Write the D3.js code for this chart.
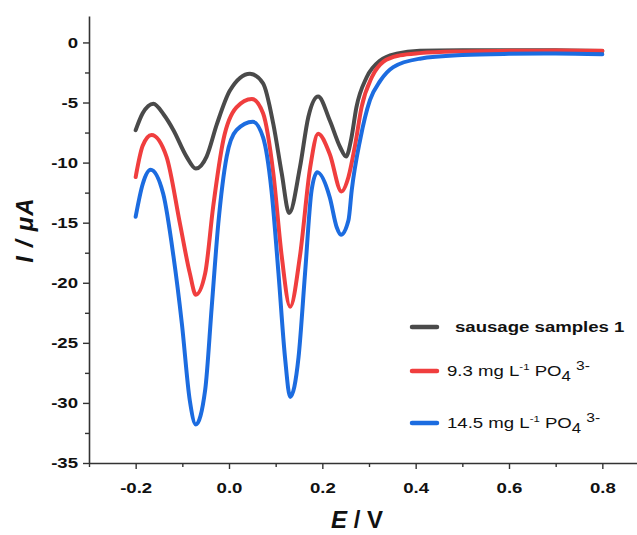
<!DOCTYPE html>
<html>
<head>
<meta charset="utf-8">
<script src="https://cdn.jsdelivr.net/npm/d3@7/dist/d3.min.js"></script>
<style>
  body { margin: 0; background: #fff; }
  svg { display: block; font-family: "Liberation Sans", Arial, sans-serif; }
</style>
</head>
<body>
<div id="chart"></div>
<script>
// potential (V) and current (uA), one pair of arrays per curve
var sausageE = [-0.20, -0.185, -0.162, -0.14, -0.119, -0.091, -0.071, -0.048, -0.026, 0.002, 0.045, 0.073, 0.095, 0.113, 0.129, 0.152, 0.17, 0.191, 0.216, 0.238, 0.251, 0.262, 0.273, 0.295, 0.324, 0.359, 0.409, 0.5, 0.6, 0.7, 0.8]
var sausageI = [-7.3, -5.9, -5.1, -6.0, -7.3, -9.5, -10.5, -9.5, -6.8, -4.0, -2.6, -3.4, -6.8, -10.9, -14.2, -10.4, -6.2, -4.5, -6.5, -8.7, -9.5, -8.0, -5.4, -2.9, -1.5, -0.94, -0.7, -0.66, -0.65, -0.66, -0.72]

var spike93E = [-0.20, -0.185, -0.166, -0.134, -0.105, -0.084, -0.071, -0.051, -0.034, -0.012, 0.016, 0.049, 0.073, 0.095, 0.113, 0.131, 0.152, 0.174, 0.191, 0.216, 0.241, 0.256, 0.27, 0.284, 0.306, 0.331, 0.366, 0.409, 0.5, 0.6, 0.7, 0.8]
var spike93I = [-11.2, -8.6, -7.7, -9.5, -15.1, -19.2, -21.0, -19.2, -13.7, -8.1, -5.4, -4.7, -5.9, -10.9, -17.8, -22.0, -17.8, -10.4, -7.6, -9.3, -12.4, -11.2, -8.6, -5.4, -2.9, -1.6, -1.08, -0.89, -0.75, -0.7, -0.68, -0.7]

var spike145E = [-0.20, -0.185, -0.168, -0.141, -0.119, -0.101, -0.084, -0.071, -0.051, -0.037, -0.023, -0.005, 0.016, 0.051, 0.073, 0.091, 0.106, 0.12, 0.131, 0.149, 0.163, 0.177, 0.189, 0.216, 0.231, 0.24, 0.256, 0.263, 0.281, 0.302, 0.324, 0.352, 0.409, 0.5, 0.6, 0.7, 0.8]
var spike145I = [-14.5, -11.8, -10.6, -12.6, -17.8, -23.4, -29.8, -31.8, -28.9, -22.0, -15.1, -9.5, -7.3, -6.6, -7.9, -12.3, -19.2, -26.2, -29.5, -26.2, -19.2, -12.3, -10.8, -12.9, -15.4, -16.0, -14.8, -12.3, -8.1, -4.8, -3.2, -2.05, -1.35, -1.05, -0.95, -0.92, -0.98]

// legend labels, ^{..} = superscript, _{..} = subscript
var seriesNames = ['sausage samples 1', '9.3 mg L^{-1} PO_{4} ^{3-}', '14.5 mg L^{-1} PO_{4} ^{3-}']
var seriesColors = ['#4a4a4a', '#f03e3e', '#1c6ce0']

var xTicks = [-0.2, 0.0, 0.2, 0.4, 0.6, 0.8]
var xMinor = [-0.3, -0.1, 0.1, 0.3, 0.5, 0.7, 0.9]
var yTicks = [0, -5, -10, -15, -20, -25, -30, -35]
var yMinor = [-2.5, -7.5, -12.5, -17.5, -22.5, -27.5, -32.5]

var W = 637, H = 535
var margin = { top: 16, right: 0, bottom: 72, left: 89 }
var plotBottom = H - margin.bottom
var stretch = 1.2   // the source fonts are wider than Liberation Sans

var svg = d3.select('#chart').append('svg')
  .attr('width', W)
  .attr('height', H)

var x = d3.scaleLinear()
  .domain([-0.3, 0.9])
  .range([margin.left, 649])

var y = d3.scaleLinear()
  .domain([-35, 2.2])
  .range([plotBottom, margin.top])

var axisColor = '#333'

// minor ticks first so the major axis draws over
svg.append('g')
  .attr('transform', 'translate(0,' + plotBottom + ')')
  .call(d3.axisBottom(x).tickValues(xMinor).tickSize(4).tickFormat(''))
  .call(function(g) { g.select('.domain').remove() })

svg.append('g')
  .attr('transform', 'translate(' + margin.left + ',0)')
  .call(d3.axisLeft(y).tickValues(yMinor).tickSize(4).tickFormat(''))
  .call(function(g) { g.select('.domain').remove() })

var xAxis = svg.append('g')
  .attr('class', 'x-axis')
  .attr('transform', 'translate(0,' + plotBottom + ')')
  .call(d3.axisBottom(x).tickValues(xTicks).tickSize(6).tickSizeOuter(0).tickPadding(13)
    .tickFormat(function(d) { return d.toFixed(1) }))

var yAxis = svg.append('g')
  .attr('class', 'y-axis')
  .attr('transform', 'translate(' + margin.left + ',0)')
  .call(d3.axisLeft(y).tickValues(yTicks).tickSize(6).tickSizeOuter(0)
    .tickFormat(function(d) { return String(d) }))

svg.selectAll('.domain').attr('stroke', axisColor).attr('stroke-width', 1.6)
svg.selectAll('.tick line').attr('stroke', axisColor).attr('stroke-width', 1.4)
svg.selectAll('.tick text')
  .attr('fill', '#111')
  .attr('transform', 'scale(' + stretch + ',1)')
  .style('font-size', '15.5px')
  .style('font-weight', 'bold')
yAxis.selectAll('.tick text').attr('x', -11 / stretch)

// curves
var curves = [
  { e: sausageE, i: sausageI },
  { e: spike93E, i: spike93I },
  { e: spike145E, i: spike145I }
]

var line = d3.line()
  .x(function(d) { return x(d[0]) })
  .y(function(d) { return y(d[1]) })
  .curve(d3.curveMonotoneX)

svg.selectAll('.curve')
  .data(curves)
  .enter().append('path')
  .attr('class', 'curve')
  .attr('fill', 'none')
  .attr('stroke', function(d, k) { return seriesColors[k] })
  .attr('stroke-width', 4)
  .attr('stroke-linejoin', 'round')
  .attr('stroke-linecap', 'round')
  .attr('d', function(d) { return line(d.e.map(function(v, j) { return [v, d.i[j]] })) })

// axis titles
svg.append('text')
  .attr('x', 357)
  .attr('y', 528)
  .attr('text-anchor', 'middle')
  .style('font-size', '24px')
  .style('font-weight', 'bold')
  .attr('fill', '#111')
  .call(function(t) {
    t.append('tspan').style('font-style', 'italic').text('E')
    t.append('tspan').text(' / V')
  })

svg.append('text')
  .attr('transform', 'translate(33,230) rotate(-90)')
  .attr('text-anchor', 'middle')
  .style('font-size', '24px')
  .style('font-weight', 'bold')
  .style('font-style', 'italic')
  .style('letter-spacing', '1.2px')
  .attr('fill', '#111')
  .text('I / \u03bcA')

// legend
var legendY = [327, 371, 423]
var legendTextX = [455, 447, 447]

function richText(sel, str) {
  var parts = str.split(/(\^\{[^}]*\}|_\{[^}]*\})/).filter(function(p) { return p.length })
  var shift = 0
  parts.forEach(function(p) {
    var dy = 0, size = null, txt = p
    if (p[0] === '^') { txt = p.slice(2, -1); dy = -6; size = p === '^{-1}' ? '9.5px' : '13px' }
    else if (p[0] === '_') { txt = p.slice(2, -1); dy = 5; size = '14px' }
    var ts = sel.append('tspan').attr('dy', dy - shift).text(txt)
    if (size) ts.style('font-size', size)
    shift = dy
  })
}

var legend = svg.append('g').attr('class', 'legend')

seriesNames.forEach(function(name, k) {
  legend.append('line')
    .attr('x1', 412).attr('x2', 437)
    .attr('y1', legendY[k]).attr('y2', legendY[k])
    .attr('stroke', seriesColors[k])
    .attr('stroke-width', 4.5)
    .attr('stroke-linecap', 'round')
  var t = legend.append('text')
    .attr('transform', 'translate(' + legendTextX[k] + ',' + (legendY[k] + 5) + ') scale(' + stretch + ',1)')
    .attr('fill', '#111')
    .style('font-size', '15.5px')
    .style('font-weight', k === 0 ? 'bold' : 'normal')
  richText(t, name)
})
</script>
</body>
</html>
